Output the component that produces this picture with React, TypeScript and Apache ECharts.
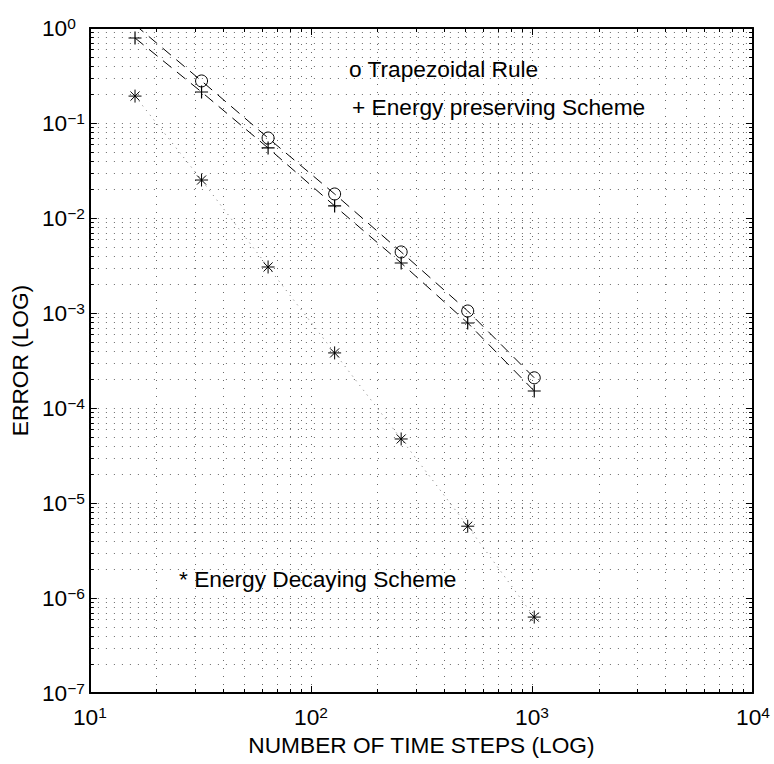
import React, { useEffect, useRef } from "react";
import * as echarts from "echarts";

// ---- data ----
const steps = [16, 32, 64, 128, 256, 512, 1024];
const trapezoidal = [1.08, 0.277, 0.0695, 0.0179, 0.00439, 0.00105, 0.000208];
const energyPreserving = [0.785, 0.212, 0.0546, 0.0134, 0.00336, 0.000785, 0.000151];
const energyDecaying = [0.192, 0.0251, 0.00305, 0.00038, 0.0000472, 0.0000057, 0.00000063];

// ---- axis structure ----
const xMin = 10;
const xMax = 10000;
const yMin = 1e-7;
const yMax = 1;
const xDecadeStarts = [10, 100, 1000];
const yDecadeStarts = [1e-7, 1e-6, 1e-5, 1e-4, 1e-3, 1e-2, 1e-1];
const minorMultipliers = [2, 3, 4, 5, 6, 7, 8, 9];

const texts = {
  trap: "o Trapezoidal Rule",
  pres: "+ Energy preserving Scheme",
  decay: "* Energy Decaying Scheme",
  xTitle: "NUMBER OF TIME STEPS (LOG)",
  yTitle: "ERROR (LOG)",
};

const FONT = '"Liberation Sans", Arial, Helvetica, sans-serif';
const FS = 22.7;

const PLUS = "path://M0,5L10,5M5,0L5,10";
const STAR = "path://M5,0L5,10M0,5L10,5M1.5,1.5L8.5,8.5M8.5,1.5L1.5,8.5";

function expLabel(v: number) {
  const e = Math.round(Math.log10(v));
  const s = e < 0 ? "\u2212" + -e : String(e);
  return `{b|10}{s|${s}}`;
}

const labelRich = {
  b: { fontSize: FS, lineHeight: 26, fontFamily: FONT, color: "#000" },
  s: { fontSize: 15.5, lineHeight: 12, verticalAlign: "top", fontFamily: FONT, color: "#000" },
};

const GRID_COLOR = "#6a6a6a";
const gridDot = { color: GRID_COLOR, width: 1, type: [1, 7] as number[] };

export default function App() {
  const ref = useRef<HTMLDivElement>(null);

  useEffect(() => {
    if (!ref.current) return;
    const chart = echarts.init(ref.current, undefined, { renderer: "svg" });

    const xMinor = xDecadeStarts.flatMap((d) => minorMultipliers.map((m) => m * d));
    const yMinor = yDecadeStarts.flatMap((d) => minorMultipliers.map((m) => m * d));

    const option: any = {
      animation: false,
      backgroundColor: "#fff",
      grid: { left: 87, right: 21, top: 28, bottom: 71, containLabel: false },
      xAxis: [
        {
          type: "log",
          logBase: 10,
          min: xMin,
          max: xMax,
          position: "bottom",
          name: texts.xTitle,
          nameLocation: "middle",
          nameGap: 40,
          nameTextStyle: { fontSize: FS, fontFamily: FONT, color: "#000" },
          axisLine: { show: true, onZero: false, lineStyle: { color: "#000", width: 2 } },
          axisTick: { show: true, inside: true, length: 7, lineStyle: { color: "#000", width: 1 } },
          axisLabel: {
            show: true,
            margin: 11,
            formatter: expLabel,
            rich: labelRich,
            showMinLabel: true,
            showMaxLabel: true,
            hideOverlap: false,
          },
          splitLine: { show: true, lineStyle: gridDot },
        },
        {
          type: "log",
          logBase: 10,
          min: xMin,
          max: xMax,
          position: "top",
          axisLine: { show: true, onZero: false, lineStyle: { color: "#000", width: 2 } },
          axisTick: { show: true, inside: true, length: 7, lineStyle: { color: "#000", width: 1 } },
          axisLabel: { show: false },
          splitLine: { show: false },
        },
      ],
      yAxis: [
        {
          type: "log",
          logBase: 10,
          min: yMin,
          max: yMax,
          position: "left",
          name: texts.yTitle,
          nameLocation: "middle",
          nameGap: 47,
          nameTextStyle: { fontSize: FS, fontFamily: FONT, color: "#000" },
          axisLine: { show: true, onZero: false, lineStyle: { color: "#000", width: 2 } },
          axisTick: { show: true, inside: true, length: 7, lineStyle: { color: "#000", width: 1 } },
          axisLabel: {
            show: true,
            align: "left",
            margin: 48,
            formatter: expLabel,
            rich: labelRich,
            showMinLabel: true,
            showMaxLabel: true,
            hideOverlap: false,
          },
          splitLine: { show: true, lineStyle: gridDot },
        },
        {
          type: "log",
          logBase: 10,
          min: yMin,
          max: yMax,
          position: "right",
          axisLine: { show: true, onZero: false, lineStyle: { color: "#000", width: 2 } },
          axisTick: { show: true, inside: true, length: 7, lineStyle: { color: "#000", width: 1 } },
          axisLabel: { show: false },
          splitLine: { show: false },
        },
      ],
      series: [
        {
          type: "custom",
          name: "xMinorGrid",
          xAxisIndex: 0,
          yAxisIndex: 0,
          z: 1,
          silent: true,
          data: xMinor.map((v) => [v, yMax]),
          renderItem: (params: any, api: any) => {
            const cs = params.coordSys;
            const p = api.coord([api.value(0), api.value(1)]);
            const x = Math.round(p[0]) + 0.5;
            const top = cs.y;
            const bot = cs.y + cs.height;
            return {
              type: "group",
              children: [
                { type: "line", shape: { x1: x, y1: top, x2: x, y2: bot }, style: { stroke: GRID_COLOR, lineWidth: 1, lineDash: [1, 7] } },
                { type: "line", shape: { x1: x, y1: bot, x2: x, y2: bot - 4 }, style: { stroke: "#000", lineWidth: 1 } },
                { type: "line", shape: { x1: x, y1: top, x2: x, y2: top + 4 }, style: { stroke: "#000", lineWidth: 1 } },
              ],
            };
          },
        },
        {
          type: "custom",
          name: "yMinorGrid",
          xAxisIndex: 0,
          yAxisIndex: 0,
          z: 1,
          silent: true,
          data: yMinor.map((v) => [xMin, v]),
          renderItem: (params: any, api: any) => {
            const cs = params.coordSys;
            const p = api.coord([api.value(0), api.value(1)]);
            const y = Math.round(p[1]) + 0.5;
            const l = cs.x;
            const r = cs.x + cs.width;
            return {
              type: "group",
              children: [
                { type: "line", shape: { x1: l, y1: y, x2: r, y2: y }, style: { stroke: GRID_COLOR, lineWidth: 1, lineDash: [1, 7] } },
                { type: "line", shape: { x1: l, y1: y, x2: l + 4, y2: y }, style: { stroke: "#000", lineWidth: 1 } },
                { type: "line", shape: { x1: r, y1: y, x2: r - 4, y2: y }, style: { stroke: "#000", lineWidth: 1 } },
              ],
            };
          },
        },
        {
          type: "line",
          name: "Trapezoidal Rule",
          z: 3,
          clip: true,
          data: steps.map((s, i) => [s, trapezoidal[i]]),
          symbol: "circle",
          symbolSize: 12,
          itemStyle: { color: "rgba(0,0,0,0)", borderColor: "#000", borderWidth: 1 },
          lineStyle: { color: "#000", width: 1, type: [11, 7] },
        },
        {
          type: "line",
          name: "Energy preserving Scheme",
          z: 3,
          clip: true,
          data: steps.map((s, i) => [s, energyPreserving[i]]),
          symbol: PLUS,
          symbolSize: 13,
          itemStyle: { color: "none", borderColor: "#000", borderWidth: 1.2 },
          lineStyle: { color: "#000", width: 1, type: [11, 7] },
        },
        {
          type: "line",
          name: "Energy Decaying Scheme",
          z: 3,
          clip: true,
          data: steps.map((s, i) => [s, energyDecaying[i]]),
          symbol: STAR,
          symbolSize: 13,
          itemStyle: { color: "none", borderColor: "#000", borderWidth: 1 },
          lineStyle: { color: "#777", width: 1, type: [1, 5] },
        },
      ],
      graphic: [
        {
          type: "text",
          x: 349,
          y: 69,
          z: 10,
          style: { text: texts.trap, fontSize: FS, fontFamily: FONT, fill: "#000", align: "left", verticalAlign: "middle", textVerticalAlign: "middle" },
        },
        {
          type: "text",
          x: 352,
          y: 107,
          z: 10,
          style: { text: texts.pres, fontSize: FS, fontFamily: FONT, fill: "#000", align: "left", verticalAlign: "middle", textVerticalAlign: "middle" },
        },
        {
          type: "text",
          x: 179,
          y: 579,
          z: 10,
          style: { text: texts.decay, fontSize: FS, fontFamily: FONT, fill: "#000", align: "left", verticalAlign: "middle", textVerticalAlign: "middle" },
        },
      ],
    };

    chart.setOption(option);
    return () => chart.dispose();
  }, []);

  return (
    <div
      ref={ref}
      style={{ position: "fixed", left: 0, top: 0, width: 774, height: 764, background: "#fff" }}
    />
  );
}
